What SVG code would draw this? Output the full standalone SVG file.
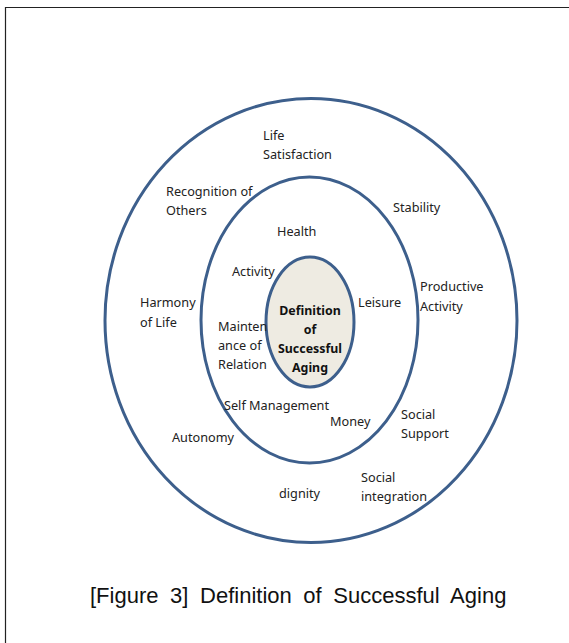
<svg xmlns="http://www.w3.org/2000/svg" width="569" height="643" viewBox="0 0 569 643">
<style>
.ring{fill:none;stroke:#3d5f8c;stroke-width:3}
.core{fill:#eeebe2;stroke:#3d5f8c;stroke-width:3}
.t{font-family:"Noto Sans","Open Sans",sans-serif;font-size:12.7px;fill:#222}
.b{font-family:"Noto Sans","Open Sans",sans-serif;font-size:12.4px;font-weight:bold;fill:#111;text-anchor:middle}
.cap{font-family:"Liberation Sans",Arial,sans-serif;font-size:22px;fill:#111;word-spacing:5.5px}
</style>
<rect width="569" height="643" fill="#fff"/>
<path d="M5.5,643 V7.5 H569" fill="none" stroke="#222" stroke-width="1.2"/>
<g id="outer"><ellipse class="ring" cx="311" cy="320.5" rx="206" ry="222"/></g>
<g id="middle"><ellipse class="ring" cx="309.5" cy="320" rx="108.5" ry="143"/></g>
<g id="core"><ellipse class="core" cx="310" cy="322" rx="44" ry="65"/>
<text class="b" x="310" y="315">Definition</text>
<text class="b" x="310" y="334">of</text>
<text class="b" x="310" y="353">Successful</text>
<text class="b" x="310" y="372">Aging</text></g>
<g id="labels">
<text class="t" x="263" y="140">Life</text>
<text class="t" x="263" y="159">Satisfaction</text>
<text class="t" x="166" y="196">Recognition of</text>
<text class="t" x="166" y="215">Others</text>
<text class="t" x="393" y="212">Stability</text>
<text class="t" x="277" y="236">Health</text>
<text class="t" x="232" y="276">Activity</text>
<text class="t" x="420" y="291">Productive</text>
<text class="t" x="420" y="311">Activity</text>
<text class="t" x="140" y="307">Harmony</text>
<text class="t" x="140" y="327">of Life</text>
<text class="t" x="358" y="307">Leisure</text>
<text class="t" x="218" y="331">Mainten</text>
<text class="t" x="218" y="350">ance of</text>
<text class="t" x="218" y="369">Relation</text>
<text class="t" x="224" y="410">Self Management</text>
<text class="t" x="330" y="426">Money</text>
<text class="t" x="401" y="419">Social</text>
<text class="t" x="401" y="438">Support</text>
<text class="t" x="172" y="442">Autonomy</text>
<text class="t" x="279" y="498">dignity</text>
<text class="t" x="361" y="482">Social</text>
<text class="t" x="361" y="501">integration</text>
</g>
<g id="connectors"></g>
<text class="cap" x="90" y="603">[Figure 3] Definition of Successful Aging</text>
</svg>
